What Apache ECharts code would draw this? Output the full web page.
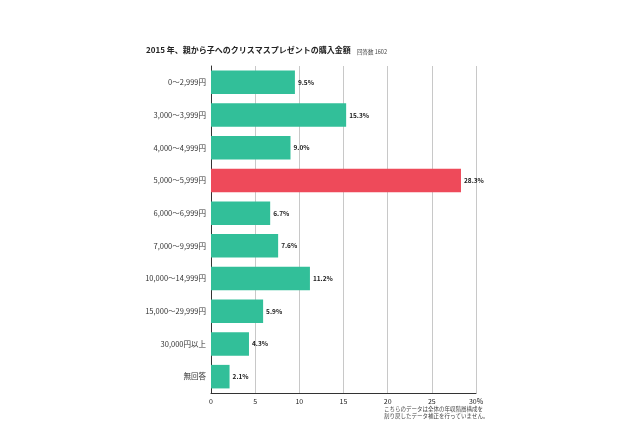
<!DOCTYPE html>
<html><head><meta charset="utf-8">
<script src="https://cdn.jsdelivr.net/npm/echarts@6/dist/echarts.min.js"></script>
<style>html,body{margin:0;padding:0;background:#fff}#c{width:640px;height:426px}</style>
</head><body><div id="c"></div>
<script>
const categories = ['0〜2,999円','3,000〜3,999円','4,000〜4,999円','5,000〜5,999円','6,000〜6,999円','7,000〜9,999円','10,000〜14,999円','15,000〜29,999円','30,000円以上','無回答'];
const values = [9.5, 15.3, 9.0, 28.3, 6.7, 7.6, 11.2, 5.9, 4.3, 2.1];
const highlightIndex = 3;
const tickLabels = ['0','5','10','15','20','25','30%'];
const titleText = '2015 年、親から子へのクリスマスプレゼントの購入金額';
const subText = '回答数 1602';
const noteText = 'こちらのデータは全体の年収階層構成を\n割り戻したデータ補正を行っていません。';

const chart = echarts.init(document.getElementById('c'));
const font = '"Noto Sans CJK JP", "Noto Sans", sans-serif';
chart.setOption({
  animation: false,
  textStyle: {fontFamily: font},
  graphic: [
    {type:'text', left:146, top:46, style:{text:titleText, font:'bold 8px ' + font, fill:'#222'}},
    {type:'text', left:357, top:49, style:{text:subText, font:'5.5px ' + font, fill:'#444'}},
    {type:'text', left:384, top:405, style:{text:noteText, font:'5.5px ' + font, fill:'#444', lineHeight:7}}
  ],
  grid: {left:211, right:164, top:66, bottom:33, containLabel:false},
  xAxis: {
    type:'value', min:0, max:30, interval:5,
    axisLine:{show:true, lineStyle:{color:'#333', width:1}},
    axisTick:{show:false},
    splitLine:{show:true, lineStyle:{color:'#c8c8c8', width:1}},
    axisLabel:{fontSize:7, color:'#222', margin:5, formatter:(v)=>tickLabels[Math.round(v/5)]}
  },
  yAxis: {
    type:'category', data:categories, inverse:true,
    axisLine:{show:true, lineStyle:{color:'#333', width:1}},
    axisTick:{show:false},
    axisLabel:{fontSize:7.5, color:'#333', margin:5}
  },
  series: [{
    type:'bar',
    data: values.map((v,i)=>({value:v, itemStyle:{color: i===highlightIndex ? '#ee4a5a' : '#32bf99'}})),
    barCategoryGap:'28%',
    label:{show:true, position:'right', distance:3, fontSize:6.5, fontWeight:'bold', color:'#222', formatter:(p)=>p.value.toFixed(1)+'%'}
  }]
});
</script></body></html>
